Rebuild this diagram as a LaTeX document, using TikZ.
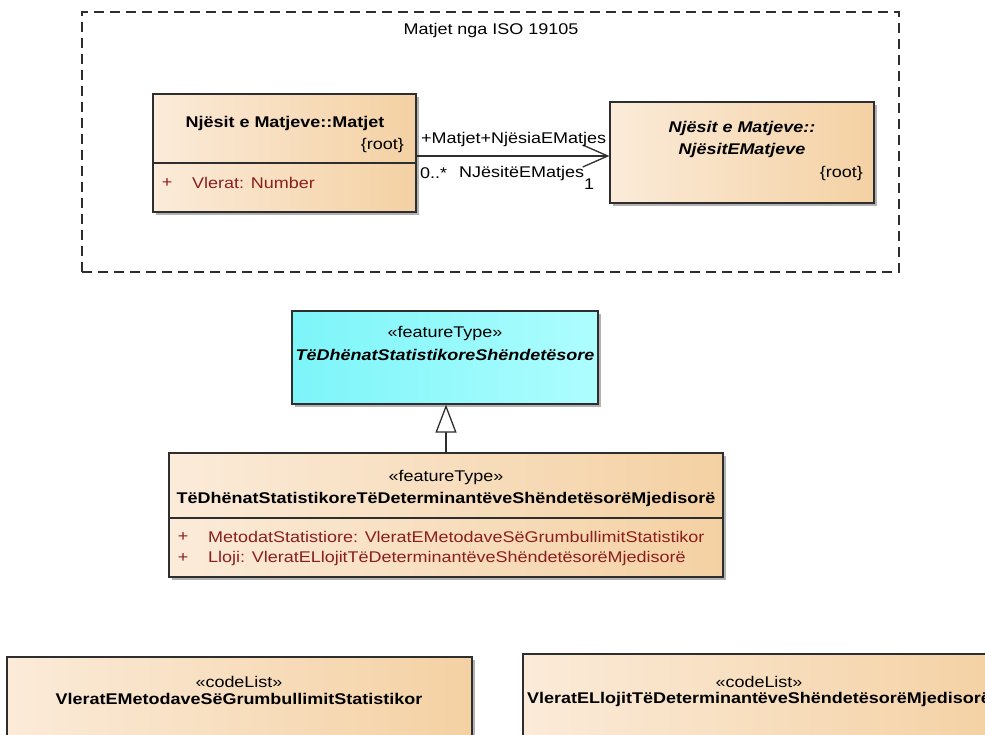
\documentclass[tikz,border=0pt]{standalone}
\usepackage{fontspec}
\setmainfont[FakeStretch=1.16]{Liberation Sans}
\usetikzlibrary{arrows.meta,shadows}
\definecolor{boxL}{HTML}{FBEBD9}
\definecolor{boxR}{HTML}{F4D1A3}
\definecolor{cyL}{HTML}{7CF5F9}
\definecolor{cyR}{HTML}{AEFDFE}
\definecolor{attrc}{HTML}{8B1F1F}
\definecolor{edgec}{HTML}{2E2E2E}
\newcommand\dfs{\fontsize{15.5}{17}\selectfont}
\begin{document}
\begin{tikzpicture}[x=1pt,y=-1pt,
  every node/.style={inner sep=0pt},
  txt/.style={font=\dfs, text=black},
  bname/.style={font=\dfs\bfseries, text=black},
  biname/.style={font=\dfs\bfseries\itshape, text=black},
  attr/.style={font=\dfs, text=attrc},
  boxshadow/.style={drop shadow={shadow xshift=3pt, shadow yshift=-3pt, opacity=0.3, fill=black}},
  classbox/.style={draw=edgec, line width=1.3pt, rectangle, left color=boxL, right color=boxR, boxshadow},
  cyanbox/.style={draw=edgec, line width=1.3pt, rectangle, left color=cyL, right color=cyR, boxshadow},
  pkgframe/.style={draw=edgec, line width=1.3pt, dash pattern=on 10pt off 6pt, rectangle},
  sepline/.style={draw=edgec, line width=1.3pt},
  assoc/.style={draw=edgec, line width=1.3pt, -{Straight Barb[length=25pt,width=22pt]}},
  general/.style={draw=edgec, line width=1.3pt, -{Triangle[open, length=28pt, width=21pt, fill=white]}}
]
\useasboundingbox[fill=white] (0,0) rectangle (985,735);

% package frame
\node[pkgframe, minimum width=817pt, minimum height=260pt] (pkg) at (490.5,142) {};
\node[txt] (pkgtitle) at (491,30) {Matjet nga ISO 19105};

% Matjet class
\node[classbox, minimum width=263pt, minimum height=118pt] (matjet) at (284.5,153) {};
\draw[sepline] (matjet.west |- 0,163) -- (matjet.east |- 0,163);
\node[bname] (matjetname) at (285,123) {Njësit e Matjeve::Matjet};
\node[txt, anchor=east] (matjetroot) at (404,145) {\{root\}};
\node[attr] (matjetplus) at (167,183) {+};
\node[attr, anchor=west] (matjetattr) at (192,183) {Vlerat: Number};

% NjesitEMatjeve class
\node[classbox, minimum width=264pt, minimum height=101pt] (njesit) at (742,152.5) {};
\node[biname] (njesitname1) at (742,128) {Njësit e Matjeve::};
\node[biname] (njesitname2) at (742,150) {NjësitEMatjeve};
\node[txt, anchor=east] (njesitroot) at (863,173) {\{root\}};

% association
\draw[assoc] ([yshift=-3pt]matjet.east) -- ([yshift=-3.5pt]njesit.west);
\node[txt, anchor=west] (rolea) at (421,139) {+Matjet+NjësiaEMatjes};
\node[txt, anchor=west] (multa) at (420,173) {0..*};
\node[txt, anchor=west] (roleb) at (459,173) {NJësitëEMatjes};
\node[txt] (multb) at (589,184) {1};

% feature type (abstract)
\node[cyanbox, minimum width=306pt, minimum height=93pt] (tedhenat) at (445,357.5) {};
\node[txt] (tedhenatst) at (445,333) {«featureType»};
\node[biname] (tedhenatname) at (445,355) {TëDhënatStatistikoreShëndetësore};

% feature type (concrete)
\node[classbox, minimum width=554pt, minimum height=124pt] (determ) at (446,515) {};
\draw[sepline] (determ.west |- 0,518) -- (determ.east |- 0,518);
\node[txt] (determst) at (446,477) {«featureType»};
\node[bname] (determname) at (446,499) {TëDhënatStatistikoreTëDeterminantëveShëndetësorëMjedisorë};
\node[attr] (plus1) at (183,537) {+};
\node[attr, anchor=west] (attr1) at (208,537) {MetodatStatistiore: VleratEMetodaveSëGrumbullimitStatistikor};
\node[attr] (plus2) at (183,558) {+};
\node[attr, anchor=west] (attr2) at (208,558) {Lloji: VleratELlojitTëDeterminantëveShëndetësorëMjedisorë};

% generalization
\draw[general] (determ.north) -- (determ.north |- tedhenat.south);

% code lists
\node[classbox, minimum width=465pt, minimum height=110pt] (metodat) at (239.5,712) {};
\node[txt] (metodatst) at (239,682) {«codeList»};
\node[bname] (metodatname) at (239,699) {VleratEMetodaveSëGrumbullimitStatistikor};

\node[classbox, minimum width=480pt, minimum height=110pt] (llojit) at (763,709) {};
\node[txt] (llojitst) at (759,682) {«codeList»};
\node[bname, anchor=west] (llojitname) at (527,699) {VleratELlojitTëDeterminantëveShëndetësorëMjedisorë};
\end{tikzpicture}
\end{document}
